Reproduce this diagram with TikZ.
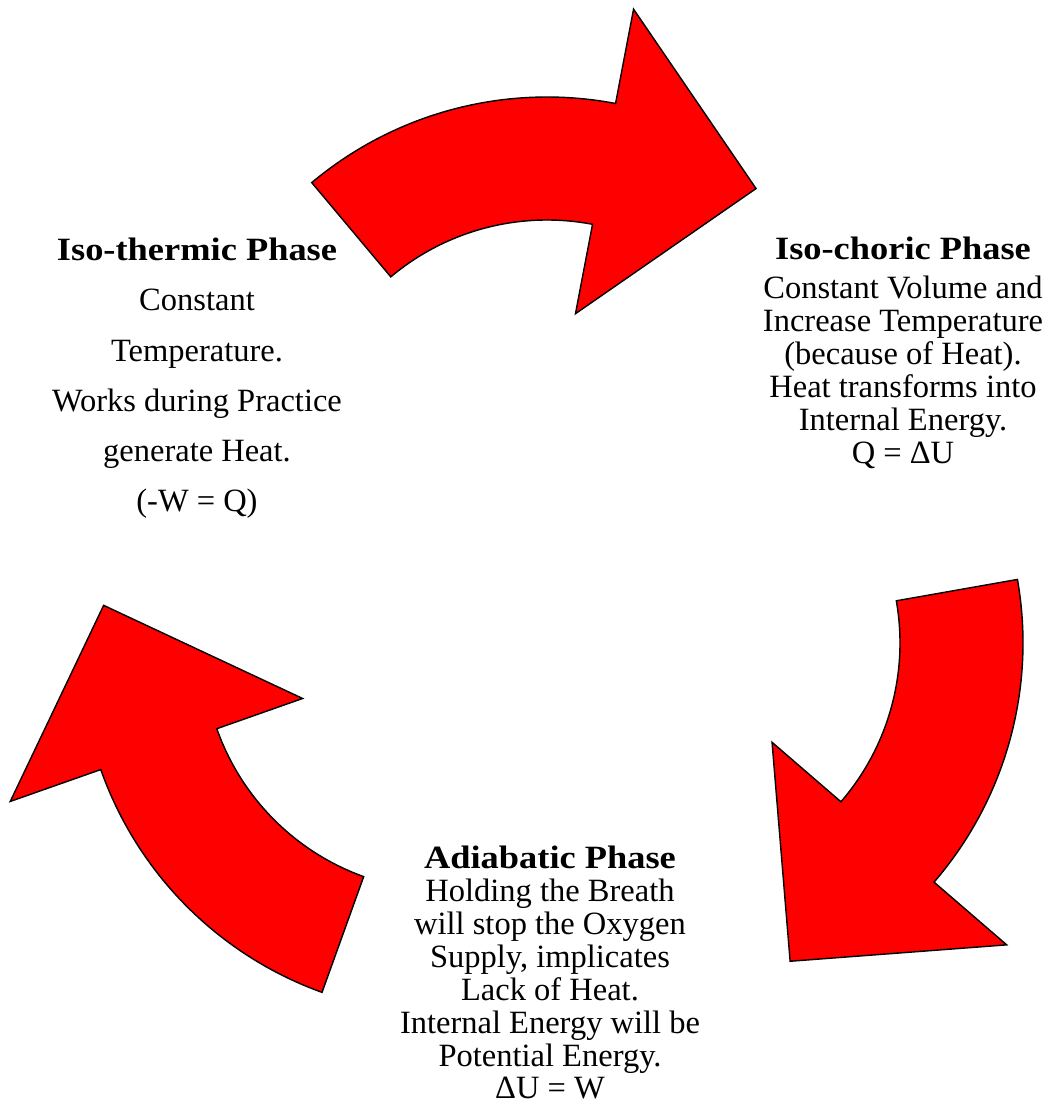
\documentclass[tikz,border=0pt]{standalone}
\usepackage{fontspec}
\setmainfont{Liberation Serif}[BoldFeatures={FakeStretch=1.12}]
\usetikzlibrary{positioning,calc}

% one curved cycle arrow: centre, tail angle
\newcommand{\cyclearrow}[2]{%
    \pgfmathsetmacro{\headbase}{#2-50.8}
    \pgfmathsetmacro{\tipangle}{#2-77.3}
    \draw[arrowband] ($(#1)+(#2:366)$) arc[start angle=#2, end angle=\headbase, radius=366]
        -- ($(#1)+(\headbase:462)$) -- ($(#1)+(\tipangle:345)$)
        -- ($(#1)+(\headbase:152)$) -- ($(#1)+(\headbase:243)$)
        arc[start angle=\headbase, end angle=#2, radius=243] -- cycle;
}

\begin{document}
\begin{tikzpicture}[x=0.02cm,y=0.02cm,
        arrowband/.style={draw=black, line width=0.8pt, fill=red, line join=miter},
        phasetext/.style={align=center, inner sep=0pt, anchor=north,
                font=\fontsize{18.5}{18.7}\selectfont},
        widetext/.style={phasetext, font=\fontsize{18.5}{28.5}\selectfont}]
    \useasboundingbox (0,0) rectangle (1049,1107);

    \coordinate (ctop) at (547,644);
    \coordinate (cright) at (657,464);
    \coordinate (cleft) at (446,459);

    \cyclearrow{ctop}{130}
    \cyclearrow{cright}{10}
    \cyclearrow{cleft}{250.2}

    \node[widetext] (thermic) at (197,869) {\textbf{Iso-thermic Phase}\\
        Constant\\ Temperature.\\ Works during Practice\\ generate Heat.\\ (-W = Q)};
    \node[phasetext] (choric) at (903,870) {\textbf{Iso-choric Phase}\\[0.12cm]
        Constant Volume and\\ Increase Temperature\\ (because of Heat).\\
        Heat transforms into\\ Internal Energy.\\ Q = ΔU};
    \node[phasetext] (adiabatic) at (550,261) {\textbf{Adiabatic Phase}\\
        Holding the Breath\\ will stop the Oxygen\\ Supply, implicates\\
        Lack of Heat.\\ Internal Energy will be\\ Potential Energy.\\ ΔU = W};
\end{tikzpicture}
\end{document}
